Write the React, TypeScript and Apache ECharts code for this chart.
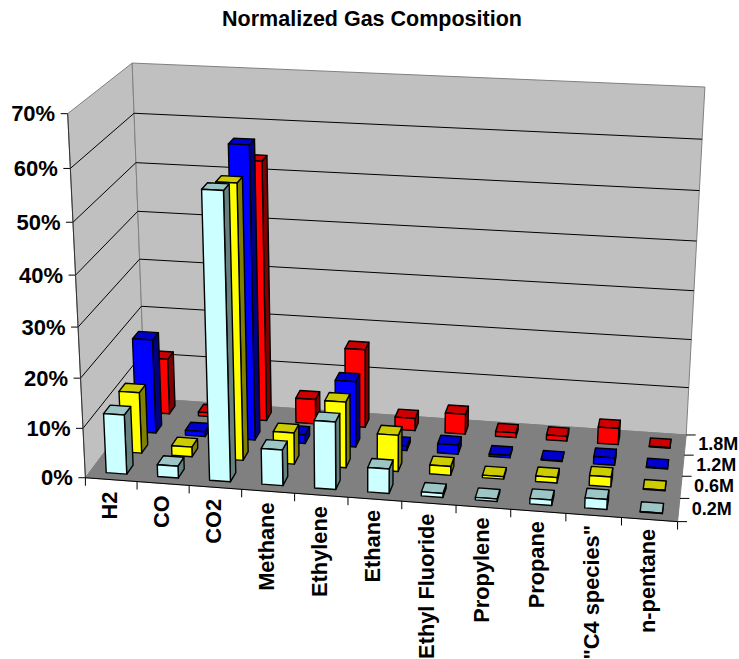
import React, { useEffect, useRef } from "react";
import * as echarts from "echarts";

const categories = ["H2", "CO", "CO2", "Methane", "Ethylene", "Ethane", "Ethyl Fluoride", "Propylene", "Propane", '"C4 species"', "n-pentane"];
const rowNames = ["0.2M", "0.6M", "1.2M", "1.8M"];
const valueTicks = [0, 10, 20, 30, 40, 50, 60, 70];
const values02 = [12, 2.4, 56.5, 7.2, 13.5, 4.9, 0.8, 0.5, 1.1, 2, 0.1];
const values06 = [12.5, 2, 55, 6.4, 13.4, 7.4, 1.8, 0.5, 1.1, 2, 0.1];
const values12 = [19.5, 1, 59.5, 1.8, 13.6, 1, 1.9, 0.5, 0.2, 1.5, 0.1];
const values18 = [11.7, 0.8, 53.6, 5.2, 16.4, 2.6, 4.2, 1, 1, 3.4, 0.1];
const rowValues = [values02, values06, values12, values18];
const rowColors = [
  ["#CCFFFF", "#9CC6C6", "#668080"],
  ["#FFFF00", "#CCCC00", "#808000"],
  ["#0000FF", "#0000CC", "#000080"],
  ["#FF0000", "#CC0000", "#800000"],
];

const W = 739;
const H = 659;
const FONT = '"Liberation Sans", Arial, sans-serif';

// Reference points of the chart box: [across, depth, height] -> [screen x, screen y]
const controls: number[][] = [
  [0, 0, 0, 86, 476.7], [0, 0, 1, 66.7, 113.3], [0, 1, 0, 143, 399], [0, 1, 1, 132, 63],
  [1, 1, 0, 686.7, 434], [1, 1, 1, 706, 88], [1, 0, 0, 677.3, 521.7],
  [0, 0, 6 / 7, 69.3, 168.3], [0, 1, 6 / 7, 134.7, 113.3], [1, 1, 6 / 7, 701.5, 139],
  [0, 0, 5 / 7, 73.3, 222.3], [0, 1, 5 / 7, 137, 163], [1, 1, 5 / 7, 698.5, 190],
  [0, 0, 1 / 7, 83.3, 428.3], [0, 0, 2 / 7, 81.7, 377.7],
  [1 / 11, 0, 0, 137.3, 481.7], [3 / 11, 0, 0, 241.7, 489.7], [5 / 11, 0, 0, 347.7, 497.7],
  [7 / 11, 0, 0, 456, 505.7], [9 / 11, 0, 0, 565.7, 513.7],
  [1, 0.25, 0, 679.8, 498.7], [1, 0.5, 0, 682.2, 476], [1, 0.75, 0, 684.5, 455],
];

function fitProjection(): number[] {
  const n = 11;
  const A: number[][] = Array.from({ length: n }, () => new Array(n + 1).fill(0));
  const add = (r: number[], t: number) => {
    for (let i = 0; i < n; i++) {
      for (let j = 0; j < n; j++) A[i][j] += r[i] * r[j];
      A[i][n] += r[i] * t;
    }
  };
  for (const [a, d, z, u, v] of controls) {
    add([a, d, z, 1, 0, 0, 0, 0, -u * a, -u * d, -u * z], u);
    add([0, 0, 0, 0, a, d, z, 1, -v * a, -v * d, -v * z], v);
  }
  for (let c = 0; c < n; c++) {
    let p = c;
    for (let r = c + 1; r < n; r++) if (Math.abs(A[r][c]) > Math.abs(A[p][c])) p = r;
    [A[c], A[p]] = [A[p], A[c]];
    for (let r = 0; r < n; r++) {
      if (r === c) continue;
      const f = A[r][c] / A[c][c];
      for (let k = c; k <= n; k++) A[r][k] -= f * A[c][k];
    }
  }
  return A.map((row, i) => row[n] / row[i]);
}

const M = fitProjection();
function project(a: number, d: number, z: number): number[] {
  const w = M[8] * a + M[9] * d + M[10] * z + 1;
  return [(M[0] * a + M[1] * d + M[2] * z + M[3]) / w, (M[4] * a + M[5] * d + M[6] * z + M[7]) / w];
}

const BAR_ACROSS = 0.4;
const BAR_DEPTH = 0.42;
const BAR_SHIFT = 0.015;

function renderBar(row: number) {
  return (_params: any, api: any) => {
    const c = api.coord([api.value(0), api.value(1)]);
    const band = api.size([1, 0])[0] / W;
    const a = c[0] / W + band * BAR_SHIFT;
    const z = 1 - c[1] / H;
    const half = (band * BAR_ACROSS) / 2;
    const d0 = (row + 0.5 - BAR_DEPTH / 2) / rowNames.length;
    const d1 = (row + 0.5 + BAR_DEPTH / 2) / rowNames.length;
    const a0 = a - half;
    const a1 = a + half;
    const colors = rowColors[row];
    const face = (pts: number[][], fill: string) => ({
      type: "polygon",
      shape: { points: pts },
      style: { fill, stroke: "#000", lineWidth: 1.4, lineJoin: "round" },
    });
    return {
      type: "group",
      children: [
        face([project(a1, d0, 0), project(a1, d1, 0), project(a1, d1, z), project(a1, d0, z)], colors[2]),
        face([project(a0, d0, z), project(a1, d0, z), project(a1, d1, z), project(a0, d1, z)], colors[1]),
        face([project(a0, d0, 0), project(a1, d0, 0), project(a1, d0, z), project(a0, d0, z)], colors[0]),
      ],
    };
  };
}

function renderBox(_params: any, api: any) {
  const kids: any[] = [];
  const poly = (pts: number[][], fill: string, stroke: string) =>
    kids.push({ type: "polygon", shape: { points: pts }, style: { fill, stroke, lineWidth: 1 } });
  const line = (p: number[], q: number[], stroke: string) =>
    kids.push({ type: "line", shape: { x1: p[0], y1: p[1], x2: q[0], y2: q[1] }, style: { stroke, lineWidth: 1 } });
  const text = (t: string, x: number, y: number, size: number, align: string, rotation = 0) =>
    kids.push({
      type: "text",
      x,
      y,
      rotation,
      style: { text: t, x: 0, y: 0, fill: "#000", font: `bold ${size}px ${FONT}`, align, verticalAlign: "middle" },
    });

  poly([project(0, 0, 0), project(0, 1, 0), project(0, 1, 1), project(0, 0, 1)], "#C0C0C0", "#808080");
  poly([project(0, 1, 0), project(1, 1, 0), project(1, 1, 1), project(0, 1, 1)], "#C0C0C0", "#808080");
  poly([project(0, 0, 0), project(1, 0, 0), project(1, 1, 0), project(0, 1, 0)], "#808080", "#808080");

  valueTicks.forEach((tick) => {
    const z = 1 - api.coord([0, tick])[1] / H;
    const f = project(0, 0, z);
    const b = project(0, 1, z);
    const r = project(1, 1, z);
    if (tick > 0 && tick < 70) {
      line(f, b, "#000");
      line(b, r, "#000");
    }
    line([f[0] - 7, f[1]], f, "#000");
    text(`${tick}%`, f[0] - 12.5, f[1], 22, "right");
  });
  line(project(0, 0, 0), project(0, 0, 1), "#333");
  line(project(0, 0, 0), project(1, 0, 0), "#000");

  for (let i = 0; i <= categories.length; i++) {
    const p = project(i / categories.length, 0, 0);
    line(p, [p[0], p[1] + 8], "#000");
  }
  categories.forEach((name, i) => {
    const a = (api.coord([i, 0])[0]) / W;
    const p = project(a, 0, 0);
    text(name, p[0] - 2, p[1] + 12 - (i / categories.length) * 3, 21.8, "right", Math.PI / 2);
  });
  for (let r = 0; r <= rowNames.length; r++) {
    const p = project(1, r / rowNames.length, 0);
    line(p, [p[0] + 9.5, p[1]], "#000");
  }
  rowNames.forEach((name, r) => {
    const p = project(1, (r + 0.5) / rowNames.length, 0);
    text(name, p[0] + 13, p[1] - 1, 18, "left");
  });
  return { type: "group", children: kids };
}

export default function App() {
  const ref = useRef<HTMLDivElement>(null);
  useEffect(() => {
    document.body.style.margin = "0";
    const chart = echarts.init(ref.current!, undefined, { renderer: "svg" });
    const barSeries = rowNames
      .map((name, row) => ({
        type: "custom" as const,
        name,
        coordinateSystem: "cartesian2d",
        renderItem: renderBar(row),
        data: rowValues[row].map((v, i) => [i, v]),
        encode: { x: 0, y: 1 },
        silent: true,
        clip: false,
        z: 10 + (rowNames.length - row),
      }))
      .reverse();
    chart.setOption({
      animation: false,
      backgroundColor: "#fff",
      title: {
        text: "Normalized Gas Composition",
        left: 371.5,
        top: 8,
        textAlign: "center",
        textStyle: { fontFamily: FONT, fontSize: 21.5, fontWeight: "bold", color: "#000" },
      },
      grid: { left: 0, right: 0, top: 0, bottom: 0 },
      xAxis: { type: "category", data: categories, show: false },
      yAxis: { type: "value", min: 0, max: 70, interval: 10, show: false },
      series: [
        {
          type: "custom",
          name: "box",
          coordinateSystem: "cartesian2d",
          renderItem: renderBox,
          data: [[0, 0]],
          silent: true,
          clip: false,
          z: 1,
        },
        ...barSeries,
      ],
    });
    // Title is placed by its graphic element after the option is applied
    chart.setOption({ title: { left: 367, top: 3 } });
    return () => chart.dispose();
  }, []);
  return <div ref={ref} style={{ width: W, height: H }} />;
}
